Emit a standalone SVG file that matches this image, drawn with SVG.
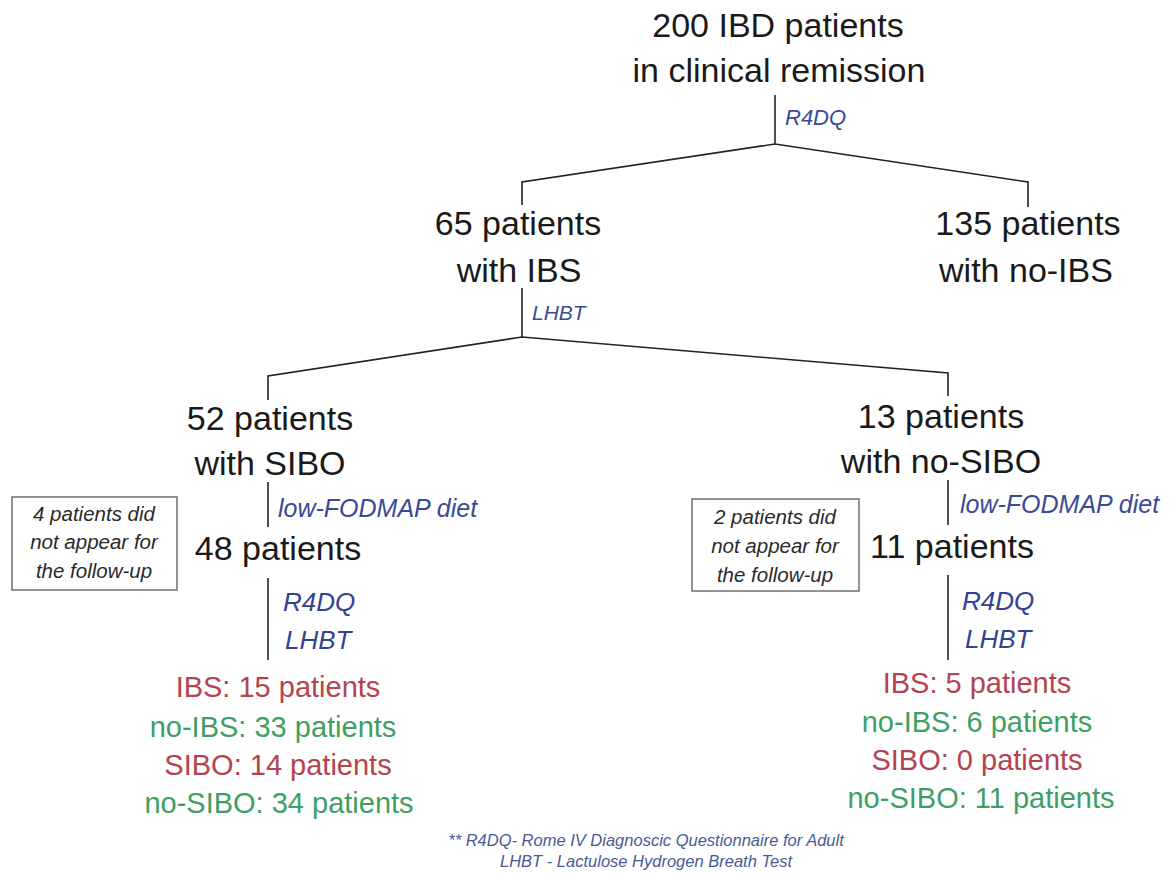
<svg xmlns="http://www.w3.org/2000/svg" width="1173" height="873" viewBox="0 0 1173 873">
<style>
text{font-family:"Liberation Sans",Arial,sans-serif;text-anchor:middle}
.big{font-size:34px;fill:#1a1a1a}
.lab{font-size:25px;font-style:italic;fill:#3a4a96;text-anchor:start}
.lab2{font-size:26px;font-style:italic;fill:#34438f;text-anchor:start}
.box{font-size:20.5px;font-style:italic;fill:#2a2a2a}
.red{font-size:29px;fill:#b4434f}
.grn{font-size:29px;fill:#3e9f64}
.foot{font-size:16.5px;font-style:italic;fill:#4a5a95}
.ln{stroke:#222;stroke-width:1.6;fill:none}
.bx{stroke:#777;stroke-width:1.6;fill:#fff}
</style>
<rect width="1173" height="873" fill="#fff"/>
<g id="connectors">
<path class="ln" d="M775 95V144"/>
<path class="ln" d="M522 205V182L775 144L1028 182V207"/>
<path class="ln" d="M522 288V337"/>
<path class="ln" d="M268 400V376L522 337L948 373V396"/>
<path class="ln" d="M268 482V527"/>
<path class="ln" d="M268 578V660"/>
<path class="ln" d="M948 480V525"/>
<path class="ln" d="M948 575V660"/>
</g>
<g id="n-root"><text class="big" x="778" y="37">200 IBD patients</text><text class="big" x="779" y="82">in clinical remission</text></g>
<g id="l-r4dq-top"><text class="lab" x="785" y="125" style="font-size:22px">R4DQ</text></g>
<g id="n-ibs"><text class="big" x="518" y="235">65 patients</text><text class="big" x="519" y="282">with IBS</text></g>
<g id="n-noibs"><text class="big" x="1028" y="235">135 patients</text><text class="big" x="1026" y="282">with no-IBS</text></g>
<g id="l-lhbt-top"><text class="lab" x="532" y="320" style="font-size:21px">LHBT</text></g>
<g id="n-sibo"><text class="big" x="270" y="430">52 patients</text><text class="big" x="270" y="475">with SIBO</text></g>
<g id="n-nosibo"><text class="big" x="941" y="428">13 patients</text><text class="big" x="941" y="473">with no-SIBO</text></g>
<g id="l-diet-left"><text class="lab" x="278" y="517">low-FODMAP diet</text></g>
<g id="l-diet-right"><text class="lab" x="960" y="513">low-FODMAP diet</text></g>
<g id="box-left"><rect class="bx" x="12" y="497" width="165" height="93"/><text class="box" x="94" y="521">4 patients did</text><text class="box" x="94" y="549">not appear for</text><text class="box" x="94" y="578">the follow-up</text></g>
<g id="box-right"><rect class="bx" x="692" y="499" width="167" height="92"/><text class="box" x="775" y="524">2 patients did</text><text class="box" x="775" y="553">not appear for</text><text class="box" x="775" y="582">the follow-up</text></g>
<g id="n-48"><text class="big" x="278" y="560">48 patients</text></g>
<g id="n-11"><text class="big" x="952" y="558">11 patients</text></g>
<g id="l-tests-left"><text class="lab2" x="283" y="611">R4DQ</text><text class="lab2" x="285" y="649">LHBT</text></g>
<g id="l-tests-right"><text class="lab2" x="962" y="610">R4DQ</text><text class="lab2" x="965" y="648">LHBT</text></g>
<g id="res-left">
<text class="red" x="278" y="697">IBS: 15 patients</text>
<text class="grn" x="273" y="737">no-IBS: 33 patients</text>
<text class="red" x="278" y="775">SIBO: 14 patients</text>
<text class="grn" x="279" y="813">no-SIBO: 34 patients</text>
</g>
<g id="res-right">
<text class="red" x="977" y="693">IBS: 5 patients</text>
<text class="grn" x="977" y="732">no-IBS: 6 patients</text>
<text class="red" x="977" y="770">SIBO: 0 patients</text>
<text class="grn" x="981" y="808">no-SIBO: 11 patients</text>
</g>
<g id="footnote"><text class="foot" x="646" y="846">** R4DQ- Rome IV Diagnoscic Questionnaire for Adult</text><text class="foot" x="646" y="867">LHBT - Lactulose Hydrogen Breath Test</text></g>
</svg>
